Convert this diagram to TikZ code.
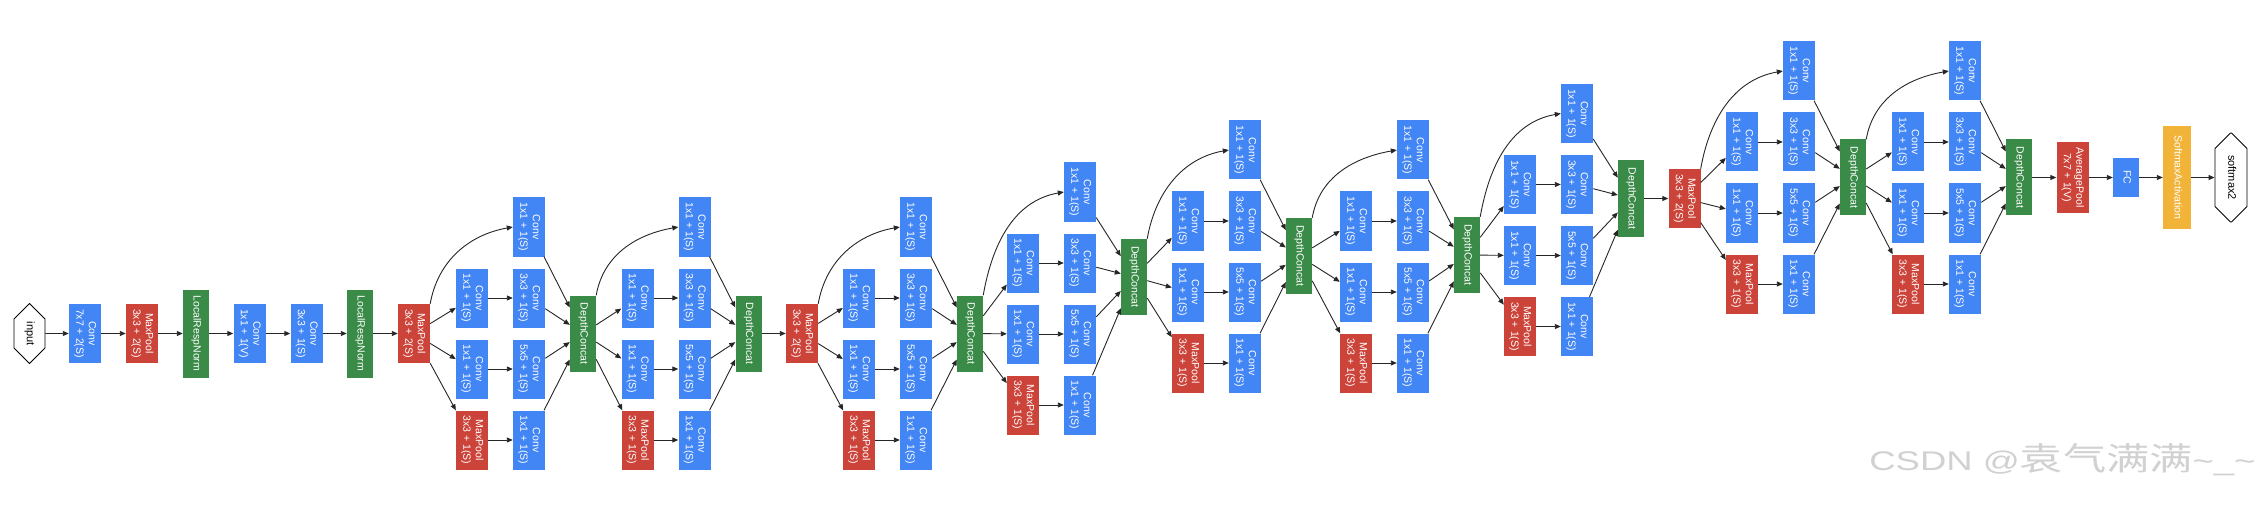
\documentclass[tikz,border=0pt]{standalone}
\usepackage{fontspec}
\setmainfont{Liberation Sans}
\newfontfamily\cjkfont{Noto Sans CJK SC}
\usepackage{tikz}
\usetikzlibrary{arrows.meta,shapes.misc}
\definecolor{convblue}{RGB}{66,133,244}
\definecolor{poolred}{RGB}{204,67,58}
\definecolor{catgreen}{RGB}{58,138,72}
\definecolor{softyellow}{RGB}{242,180,56}
\newcommand{\vtxt}[1]{\rotatebox{-90}{\begin{tabular}{@{}c@{}}#1\end{tabular}}}

\begin{document}
\begin{tikzpicture}[x=1pt,y=1pt,
  >={Triangle[length=6pt,width=5pt]},
  box/.style={inner sep=0pt,text=white,font=\fontsize{10.5}{12.5}\selectfont,minimum width=32pt,minimum height=59pt},
  conv/.style={box,fill=convblue},
  pool/.style={box,fill=poolred},
  cat/.style={box,fill=catgreen,minimum width=26pt,minimum height=76pt},
  lrn/.style={box,fill=catgreen,minimum width=26pt,minimum height=88pt},
  octa/.style={draw,line width=0.9pt,fill=white,chamfered rectangle,chamfered rectangle xsep=9pt,chamfered rectangle ysep=13pt,inner sep=0pt,font=\fontsize{11}{13}\selectfont,minimum width=31pt,minimum height=60pt},
  edge/.style={->,line width=0.9pt,draw=black!85}]
\fill[white] (0,0) rectangle (2263,507);
\useasboundingbox (0,0) rectangle (2263,507);
\node[octa] (input) at (29.5,173.5) {\vtxt{input}};
\node[conv] (conv1) at (85,173.5) {\vtxt{Conv\\7x7 + 2(S)}};
\node[pool] (pool1) at (142,173.5) {\vtxt{MaxPool\\3x3 + 2(S)}};
\node[lrn] (lrn1) at (196,173.5) {\vtxt{LocalRespNorm}};
\node[conv] (conv2) at (249.5,173.5) {\vtxt{Conv\\1x1 + 1(V)}};
\node[conv] (conv3) at (306.5,173.5) {\vtxt{Conv\\3x3 + 1(S)}};
\node[lrn] (lrn2) at (360,173.5) {\vtxt{LocalRespNorm}};
\node[pool] (pool2) at (414,173.5) {\vtxt{MaxPool\\3x3 + 2(S)}};
\node[pool] (pool3) at (802,173.5) {\vtxt{MaxPool\\3x3 + 2(S)}};
\node[pool] (pool4) at (1684.5,308.5) {\vtxt{MaxPool\\3x3 + 2(S)}};
\node[pool,minimum height=71pt] (avgpool) at (2072.5,329.5) {\vtxt{AveragePool\\7x7 + 1(V)}};
\node[conv,minimum width=26pt,minimum height=39pt] (fc) at (2126,329.5) {\vtxt{FC}};
\node[box,fill=softyellow,minimum width=28pt,minimum height=102pt] (softact) at (2177,329.5) {\vtxt{SoftmaxActivation}};
\node[octa,minimum width=32pt,minimum height=89pt,chamfered rectangle ysep=18pt] (softmax2) at (2231,329.5) {\vtxt{softmax2}};
\foreach \m/\src/\xa/\yt/\yc in {3a/pool2/472/280/173.5,3b/cat3a/637.5/280/173.5,4a/pool3/859/280/173.5,4b/cat4a/1023/315/230,4c/cat4b/1188/357/251,4d/cat4c/1356/357/252,4e/cat4d/1520/393.5/308.5,5a/pool4/1742/436/329.5,5b/cat5a/1908/436/329.5} {
  \node[conv] (top\m) at (\xa+57,\yt) {\vtxt{Conv\\1x1 + 1(S)}};
  \node[conv] (a2\m) at (\xa,\yt-71) {\vtxt{Conv\\1x1 + 1(S)}};
  \node[conv] (b2\m) at (\xa+57,\yt-71) {\vtxt{Conv\\3x3 + 1(S)}};
  \node[conv] (a3\m) at (\xa,\yt-142) {\vtxt{Conv\\1x1 + 1(S)}};
  \node[conv] (b3\m) at (\xa+57,\yt-142) {\vtxt{Conv\\5x5 + 1(S)}};
  \node[pool] (a4\m) at (\xa,\yt-213) {\vtxt{MaxPool\\3x3 + 1(S)}};
  \node[conv] (b4\m) at (\xa+57,\yt-213) {\vtxt{Conv\\1x1 + 1(S)}};
  \node[cat] (cat\m) at (\xa+111,\yc) {\vtxt{DepthConcat}};
  \draw[edge] (\src.north east) to[out=80,in=190] (top\m.west);
  \foreach \r in {2,3,4} {
    \draw[edge] (\src) -- (a\r\m);
    \draw[edge] (a\r\m) -- (b\r\m);
    \draw[edge] (b\r\m) -- (cat\m);
  }
  \draw[edge] (top\m) -- (cat\m);
}
\foreach \a/\b in {input/conv1,conv1/pool1,pool1/lrn1,lrn1/conv2,conv2/conv3,conv3/lrn2,lrn2/pool2,cat3b/pool3,cat4e/pool4,cat5b/avgpool,avgpool/fc,fc/softact,softact/softmax2}
  \draw[edge] (\a) -- (\b);
\node[anchor=base east,text=black!18] (mark) at (2259,37) {\scalebox{1.35}[1]{\fontsize{27}{27}\selectfont CSDN @{\cjkfont\fontsize{32}{32}\selectfont 袁气满满}\textasciitilde\_\textasciitilde}};
\end{tikzpicture}
\end{document}
